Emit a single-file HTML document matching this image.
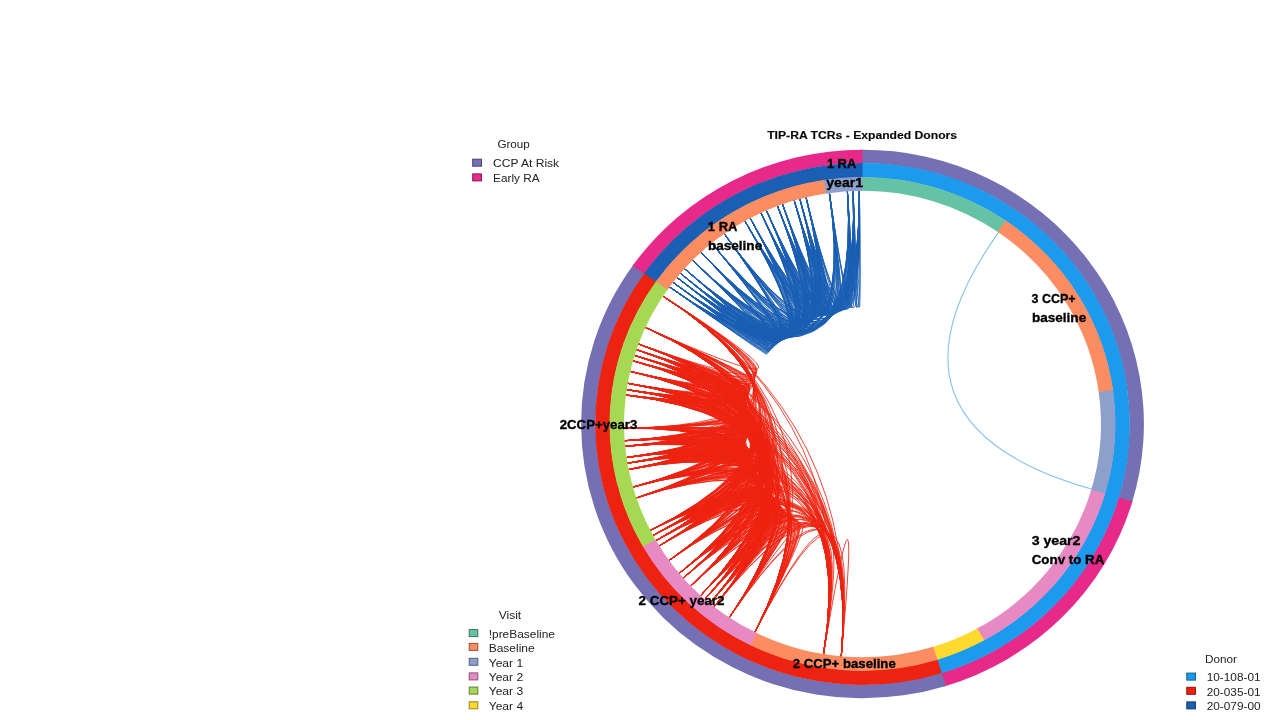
<!DOCTYPE html>
<html><head><meta charset="utf-8"><title>TIP-RA TCRs - Expanded Donors</title>
<style>
html,body{margin:0;padding:0;background:#fff;}
body{width:1280px;height:720px;overflow:hidden;font-family:"Liberation Sans",sans-serif;}
svg{display:block;font-family:"Liberation Sans",sans-serif;will-change:transform;}
.lab text{font-weight:bold;font-size:13.5px;fill:#000;stroke:#000;stroke-width:0.35px;}
.leg text{font-size:11.8px;fill:#222;}
.ttl{font-weight:bold;font-size:11.6px;fill:#0a0a0a;stroke:#0a0a0a;stroke-width:0.15px;}
</style></head><body>
<svg width="1280" height="720" viewBox="0 0 1280 720">
<rect width="1280" height="720" fill="#fff"/>
<g fill="none" stroke-linecap="butt">
<path d="M998.6 232.4Q862.5 423.9 1091.5 489.0" stroke="#86c0ee" stroke-width="1.1"/>
<path d="M663.0 296.2Q862.5 423.9 645.4 327.5M663.0 296.2Q862.5 423.9 638.5 344.0M663.0 296.2Q862.5 423.9 636.5 349.7M663.0 296.2Q862.5 423.9 634.6 355.4M663.0 296.2Q862.5 423.9 633.0 360.8M663.0 296.2Q862.5 423.9 630.2 371.4M663.0 296.2Q862.5 423.9 627.7 383.3M663.0 296.2Q862.5 423.9 626.6 389.6M663.0 296.2Q862.5 423.9 625.9 395.0M663.0 296.2Q862.5 423.9 624.1 428.3M663.0 296.2Q862.5 423.9 624.7 440.7M663.0 296.2Q862.5 423.9 625.1 446.3M663.0 296.2Q862.5 423.9 626.5 457.5M663.0 296.2Q862.5 423.9 627.4 463.2M663.0 296.2Q862.5 423.9 628.6 469.5M663.0 296.2Q862.5 423.9 632.9 487.1M663.0 296.2Q862.5 423.9 636.4 497.9M663.0 296.2Q862.5 423.9 650.3 530.4M663.0 296.2Q862.5 423.9 653.0 535.4M663.0 296.2Q862.5 423.9 656.0 540.6M663.0 296.2Q862.5 423.9 659.2 545.9M663.0 296.2Q862.5 423.9 669.1 560.4M663.0 296.2Q862.5 423.9 679.3 573.3M663.0 296.2Q862.5 423.9 683.4 578.0M663.0 296.2Q862.5 423.9 690.9 586.0M663.0 296.2Q862.5 423.9 700.8 595.4M663.0 296.2Q862.5 423.9 705.0 599.1M663.0 296.2Q862.5 423.9 710.0 603.3M663.0 296.2Q862.5 423.9 714.3 606.7M663.0 296.2Q862.5 423.9 729.4 617.5M663.0 296.2Q862.5 423.9 754.9 632.2M663.0 296.2Q862.5 423.9 823.5 654.1M663.0 296.2Q862.5 423.9 841.3 656.3M645.4 327.5Q862.5 423.9 638.5 344.0M645.4 327.5Q862.5 423.9 636.5 349.7M645.4 327.5Q862.5 423.9 634.6 355.4M645.4 327.5Q862.5 423.9 633.0 360.8M645.4 327.5Q862.5 423.9 630.2 371.4M645.4 327.5Q862.5 423.9 627.7 383.3M645.4 327.5Q862.5 423.9 626.6 389.6M645.4 327.5Q862.5 423.9 625.9 395.0M645.4 327.5Q862.5 423.9 624.1 428.3M645.4 327.5Q862.5 423.9 624.7 440.7M645.4 327.5Q862.5 423.9 625.1 446.3M645.4 327.5Q862.5 423.9 626.5 457.5M645.4 327.5Q862.5 423.9 627.4 463.2M645.4 327.5Q862.5 423.9 628.6 469.5M645.4 327.5Q862.5 423.9 632.9 487.1M645.4 327.5Q862.5 423.9 636.4 497.9M645.4 327.5Q862.5 423.9 650.3 530.4M645.4 327.5Q862.5 423.9 653.0 535.4M645.4 327.5Q862.5 423.9 656.0 540.6M645.4 327.5Q862.5 423.9 659.2 545.9M645.4 327.5Q862.5 423.9 669.1 560.4M645.4 327.5Q862.5 423.9 679.3 573.3M645.4 327.5Q862.5 423.9 683.4 578.0M645.4 327.5Q862.5 423.9 690.9 586.0M645.4 327.5Q862.5 423.9 700.8 595.4M645.4 327.5Q862.5 423.9 705.0 599.1M645.4 327.5Q862.5 423.9 710.0 603.3M645.4 327.5Q862.5 423.9 714.3 606.7M645.4 327.5Q862.5 423.9 729.4 617.5M645.4 327.5Q862.5 423.9 754.9 632.2M645.4 327.5Q862.5 423.9 823.5 654.1M645.4 327.5Q862.5 423.9 841.3 656.3M638.5 344.0Q862.5 423.9 636.5 349.7M638.5 344.0Q862.5 423.9 634.6 355.4M638.5 344.0Q862.5 423.9 633.0 360.8M638.5 344.0Q862.5 423.9 630.2 371.4M638.5 344.0Q862.5 423.9 627.7 383.3M638.5 344.0Q862.5 423.9 626.6 389.6M638.5 344.0Q862.5 423.9 625.9 395.0M638.5 344.0Q862.5 423.9 624.1 428.3M638.5 344.0Q862.5 423.9 624.7 440.7M638.5 344.0Q862.5 423.9 625.1 446.3M638.5 344.0Q862.5 423.9 626.5 457.5M638.5 344.0Q862.5 423.9 627.4 463.2M638.5 344.0Q862.5 423.9 628.6 469.5M638.5 344.0Q862.5 423.9 632.9 487.1M638.5 344.0Q862.5 423.9 636.4 497.9M638.5 344.0Q862.5 423.9 650.3 530.4M638.5 344.0Q862.5 423.9 653.0 535.4M638.5 344.0Q862.5 423.9 656.0 540.6M638.5 344.0Q862.5 423.9 659.2 545.9M638.5 344.0Q862.5 423.9 669.1 560.4M638.5 344.0Q862.5 423.9 679.3 573.3M638.5 344.0Q862.5 423.9 683.4 578.0M638.5 344.0Q862.5 423.9 690.9 586.0M638.5 344.0Q862.5 423.9 700.8 595.4M638.5 344.0Q862.5 423.9 705.0 599.1M638.5 344.0Q862.5 423.9 710.0 603.3M638.5 344.0Q862.5 423.9 714.3 606.7M638.5 344.0Q862.5 423.9 729.4 617.5M638.5 344.0Q862.5 423.9 754.9 632.2M638.5 344.0Q862.5 423.9 823.5 654.1M638.5 344.0Q862.5 423.9 841.3 656.3M636.5 349.7Q862.5 423.9 634.6 355.4M636.5 349.7Q862.5 423.9 633.0 360.8M636.5 349.7Q862.5 423.9 630.2 371.4M636.5 349.7Q862.5 423.9 627.7 383.3M636.5 349.7Q862.5 423.9 626.6 389.6M636.5 349.7Q862.5 423.9 625.9 395.0M636.5 349.7Q862.5 423.9 624.1 428.3M636.5 349.7Q862.5 423.9 624.7 440.7M636.5 349.7Q862.5 423.9 625.1 446.3M636.5 349.7Q862.5 423.9 626.5 457.5M636.5 349.7Q862.5 423.9 627.4 463.2M636.5 349.7Q862.5 423.9 628.6 469.5M636.5 349.7Q862.5 423.9 632.9 487.1M636.5 349.7Q862.5 423.9 636.4 497.9M636.5 349.7Q862.5 423.9 650.3 530.4M636.5 349.7Q862.5 423.9 653.0 535.4M636.5 349.7Q862.5 423.9 656.0 540.6M636.5 349.7Q862.5 423.9 659.2 545.9M636.5 349.7Q862.5 423.9 669.1 560.4M636.5 349.7Q862.5 423.9 679.3 573.3M636.5 349.7Q862.5 423.9 683.4 578.0M636.5 349.7Q862.5 423.9 690.9 586.0M636.5 349.7Q862.5 423.9 700.8 595.4M636.5 349.7Q862.5 423.9 705.0 599.1M636.5 349.7Q862.5 423.9 710.0 603.3M636.5 349.7Q862.5 423.9 714.3 606.7M636.5 349.7Q862.5 423.9 729.4 617.5M636.5 349.7Q862.5 423.9 754.9 632.2M636.5 349.7Q862.5 423.9 823.5 654.1M636.5 349.7Q862.5 423.9 841.3 656.3M634.6 355.4Q862.5 423.9 633.0 360.8M634.6 355.4Q862.5 423.9 630.2 371.4M634.6 355.4Q862.5 423.9 627.7 383.3M634.6 355.4Q862.5 423.9 626.6 389.6M634.6 355.4Q862.5 423.9 625.9 395.0M634.6 355.4Q862.5 423.9 624.1 428.3M634.6 355.4Q862.5 423.9 624.7 440.7M634.6 355.4Q862.5 423.9 625.1 446.3M634.6 355.4Q862.5 423.9 626.5 457.5M634.6 355.4Q862.5 423.9 627.4 463.2M634.6 355.4Q862.5 423.9 628.6 469.5M634.6 355.4Q862.5 423.9 632.9 487.1M634.6 355.4Q862.5 423.9 636.4 497.9M634.6 355.4Q862.5 423.9 650.3 530.4M634.6 355.4Q862.5 423.9 653.0 535.4M634.6 355.4Q862.5 423.9 656.0 540.6M634.6 355.4Q862.5 423.9 659.2 545.9M634.6 355.4Q862.5 423.9 669.1 560.4M634.6 355.4Q862.5 423.9 679.3 573.3M634.6 355.4Q862.5 423.9 683.4 578.0M634.6 355.4Q862.5 423.9 690.9 586.0M634.6 355.4Q862.5 423.9 700.8 595.4M634.6 355.4Q862.5 423.9 705.0 599.1M634.6 355.4Q862.5 423.9 710.0 603.3M634.6 355.4Q862.5 423.9 714.3 606.7M634.6 355.4Q862.5 423.9 729.4 617.5M634.6 355.4Q862.5 423.9 754.9 632.2M634.6 355.4Q862.5 423.9 823.5 654.1M634.6 355.4Q862.5 423.9 841.3 656.3M633.0 360.8Q862.5 423.9 630.2 371.4M633.0 360.8Q862.5 423.9 627.7 383.3M633.0 360.8Q862.5 423.9 626.6 389.6M633.0 360.8Q862.5 423.9 625.9 395.0M633.0 360.8Q862.5 423.9 624.1 428.3M633.0 360.8Q862.5 423.9 624.7 440.7M633.0 360.8Q862.5 423.9 625.1 446.3M633.0 360.8Q862.5 423.9 626.5 457.5M633.0 360.8Q862.5 423.9 627.4 463.2M633.0 360.8Q862.5 423.9 628.6 469.5M633.0 360.8Q862.5 423.9 632.9 487.1M633.0 360.8Q862.5 423.9 636.4 497.9M633.0 360.8Q862.5 423.9 650.3 530.4M633.0 360.8Q862.5 423.9 653.0 535.4M633.0 360.8Q862.5 423.9 656.0 540.6M633.0 360.8Q862.5 423.9 659.2 545.9M633.0 360.8Q862.5 423.9 669.1 560.4M633.0 360.8Q862.5 423.9 679.3 573.3M633.0 360.8Q862.5 423.9 683.4 578.0M633.0 360.8Q862.5 423.9 690.9 586.0M633.0 360.8Q862.5 423.9 700.8 595.4M633.0 360.8Q862.5 423.9 705.0 599.1M633.0 360.8Q862.5 423.9 710.0 603.3M633.0 360.8Q862.5 423.9 714.3 606.7M633.0 360.8Q862.5 423.9 729.4 617.5M633.0 360.8Q862.5 423.9 754.9 632.2M633.0 360.8Q862.5 423.9 823.5 654.1M633.0 360.8Q862.5 423.9 841.3 656.3M630.2 371.4Q862.5 423.9 627.7 383.3M630.2 371.4Q862.5 423.9 626.6 389.6M630.2 371.4Q862.5 423.9 625.9 395.0M630.2 371.4Q862.5 423.9 624.1 428.3M630.2 371.4Q862.5 423.9 624.7 440.7M630.2 371.4Q862.5 423.9 625.1 446.3M630.2 371.4Q862.5 423.9 626.5 457.5M630.2 371.4Q862.5 423.9 627.4 463.2M630.2 371.4Q862.5 423.9 628.6 469.5M630.2 371.4Q862.5 423.9 632.9 487.1M630.2 371.4Q862.5 423.9 636.4 497.9M630.2 371.4Q862.5 423.9 650.3 530.4M630.2 371.4Q862.5 423.9 653.0 535.4M630.2 371.4Q862.5 423.9 656.0 540.6M630.2 371.4Q862.5 423.9 659.2 545.9M630.2 371.4Q862.5 423.9 669.1 560.4M630.2 371.4Q862.5 423.9 679.3 573.3M630.2 371.4Q862.5 423.9 683.4 578.0M630.2 371.4Q862.5 423.9 690.9 586.0M630.2 371.4Q862.5 423.9 700.8 595.4M630.2 371.4Q862.5 423.9 705.0 599.1M630.2 371.4Q862.5 423.9 710.0 603.3M630.2 371.4Q862.5 423.9 714.3 606.7M630.2 371.4Q862.5 423.9 729.4 617.5M630.2 371.4Q862.5 423.9 754.9 632.2M630.2 371.4Q862.5 423.9 823.5 654.1M630.2 371.4Q862.5 423.9 841.3 656.3M627.7 383.3Q862.5 423.9 626.6 389.6M627.7 383.3Q862.5 423.9 625.9 395.0M627.7 383.3Q862.5 423.9 624.1 428.3M627.7 383.3Q862.5 423.9 624.7 440.7M627.7 383.3Q862.5 423.9 625.1 446.3M627.7 383.3Q862.5 423.9 626.5 457.5M627.7 383.3Q862.5 423.9 627.4 463.2M627.7 383.3Q862.5 423.9 628.6 469.5M627.7 383.3Q862.5 423.9 632.9 487.1M627.7 383.3Q862.5 423.9 636.4 497.9M627.7 383.3Q862.5 423.9 650.3 530.4M627.7 383.3Q862.5 423.9 653.0 535.4M627.7 383.3Q862.5 423.9 656.0 540.6M627.7 383.3Q862.5 423.9 659.2 545.9M627.7 383.3Q862.5 423.9 669.1 560.4M627.7 383.3Q862.5 423.9 679.3 573.3M627.7 383.3Q862.5 423.9 683.4 578.0M627.7 383.3Q862.5 423.9 690.9 586.0M627.7 383.3Q862.5 423.9 700.8 595.4M627.7 383.3Q862.5 423.9 705.0 599.1M627.7 383.3Q862.5 423.9 710.0 603.3M627.7 383.3Q862.5 423.9 714.3 606.7M627.7 383.3Q862.5 423.9 729.4 617.5M627.7 383.3Q862.5 423.9 754.9 632.2M627.7 383.3Q862.5 423.9 823.5 654.1M627.7 383.3Q862.5 423.9 841.3 656.3M626.6 389.6Q862.5 423.9 625.9 395.0M626.6 389.6Q862.5 423.9 624.1 428.3M626.6 389.6Q862.5 423.9 624.7 440.7M626.6 389.6Q862.5 423.9 625.1 446.3M626.6 389.6Q862.5 423.9 626.5 457.5M626.6 389.6Q862.5 423.9 627.4 463.2M626.6 389.6Q862.5 423.9 628.6 469.5M626.6 389.6Q862.5 423.9 632.9 487.1M626.6 389.6Q862.5 423.9 636.4 497.9M626.6 389.6Q862.5 423.9 650.3 530.4M626.6 389.6Q862.5 423.9 653.0 535.4M626.6 389.6Q862.5 423.9 656.0 540.6M626.6 389.6Q862.5 423.9 659.2 545.9M626.6 389.6Q862.5 423.9 669.1 560.4M626.6 389.6Q862.5 423.9 679.3 573.3M626.6 389.6Q862.5 423.9 683.4 578.0M626.6 389.6Q862.5 423.9 690.9 586.0M626.6 389.6Q862.5 423.9 700.8 595.4M626.6 389.6Q862.5 423.9 705.0 599.1M626.6 389.6Q862.5 423.9 710.0 603.3M626.6 389.6Q862.5 423.9 714.3 606.7M626.6 389.6Q862.5 423.9 729.4 617.5M626.6 389.6Q862.5 423.9 754.9 632.2M626.6 389.6Q862.5 423.9 823.5 654.1M626.6 389.6Q862.5 423.9 841.3 656.3M625.9 395.0Q862.5 423.9 624.1 428.3M625.9 395.0Q862.5 423.9 624.7 440.7M625.9 395.0Q862.5 423.9 625.1 446.3M625.9 395.0Q862.5 423.9 626.5 457.5M625.9 395.0Q862.5 423.9 627.4 463.2M625.9 395.0Q862.5 423.9 628.6 469.5M625.9 395.0Q862.5 423.9 632.9 487.1M625.9 395.0Q862.5 423.9 636.4 497.9M625.9 395.0Q862.5 423.9 650.3 530.4M625.9 395.0Q862.5 423.9 653.0 535.4M625.9 395.0Q862.5 423.9 656.0 540.6M625.9 395.0Q862.5 423.9 659.2 545.9M625.9 395.0Q862.5 423.9 669.1 560.4M625.9 395.0Q862.5 423.9 679.3 573.3M625.9 395.0Q862.5 423.9 683.4 578.0M625.9 395.0Q862.5 423.9 690.9 586.0M625.9 395.0Q862.5 423.9 700.8 595.4M625.9 395.0Q862.5 423.9 705.0 599.1M625.9 395.0Q862.5 423.9 710.0 603.3M625.9 395.0Q862.5 423.9 714.3 606.7M625.9 395.0Q862.5 423.9 729.4 617.5M625.9 395.0Q862.5 423.9 754.9 632.2M625.9 395.0Q862.5 423.9 823.5 654.1M625.9 395.0Q862.5 423.9 841.3 656.3M624.1 428.3Q862.5 423.9 624.7 440.7M624.1 428.3Q862.5 423.9 625.1 446.3M624.1 428.3Q862.5 423.9 626.5 457.5M624.1 428.3Q862.5 423.9 627.4 463.2M624.1 428.3Q862.5 423.9 628.6 469.5M624.1 428.3Q862.5 423.9 632.9 487.1M624.1 428.3Q862.5 423.9 636.4 497.9M624.1 428.3Q862.5 423.9 650.3 530.4M624.1 428.3Q862.5 423.9 653.0 535.4M624.1 428.3Q862.5 423.9 656.0 540.6M624.1 428.3Q862.5 423.9 659.2 545.9M624.1 428.3Q862.5 423.9 669.1 560.4M624.1 428.3Q862.5 423.9 679.3 573.3M624.1 428.3Q862.5 423.9 683.4 578.0M624.1 428.3Q862.5 423.9 690.9 586.0M624.1 428.3Q862.5 423.9 700.8 595.4M624.1 428.3Q862.5 423.9 705.0 599.1M624.1 428.3Q862.5 423.9 710.0 603.3M624.1 428.3Q862.5 423.9 714.3 606.7M624.1 428.3Q862.5 423.9 729.4 617.5M624.1 428.3Q862.5 423.9 754.9 632.2M624.1 428.3Q862.5 423.9 823.5 654.1M624.1 428.3Q862.5 423.9 841.3 656.3M624.7 440.7Q862.5 423.9 625.1 446.3M624.7 440.7Q862.5 423.9 626.5 457.5M624.7 440.7Q862.5 423.9 627.4 463.2M624.7 440.7Q862.5 423.9 628.6 469.5M624.7 440.7Q862.5 423.9 632.9 487.1M624.7 440.7Q862.5 423.9 636.4 497.9M624.7 440.7Q862.5 423.9 650.3 530.4M624.7 440.7Q862.5 423.9 653.0 535.4M624.7 440.7Q862.5 423.9 656.0 540.6M624.7 440.7Q862.5 423.9 659.2 545.9M624.7 440.7Q862.5 423.9 669.1 560.4M624.7 440.7Q862.5 423.9 679.3 573.3M624.7 440.7Q862.5 423.9 683.4 578.0M624.7 440.7Q862.5 423.9 690.9 586.0M624.7 440.7Q862.5 423.9 700.8 595.4M624.7 440.7Q862.5 423.9 705.0 599.1M624.7 440.7Q862.5 423.9 710.0 603.3M624.7 440.7Q862.5 423.9 714.3 606.7M624.7 440.7Q862.5 423.9 729.4 617.5M624.7 440.7Q862.5 423.9 754.9 632.2M624.7 440.7Q862.5 423.9 823.5 654.1M624.7 440.7Q862.5 423.9 841.3 656.3M625.1 446.3Q862.5 423.9 626.5 457.5M625.1 446.3Q862.5 423.9 627.4 463.2M625.1 446.3Q862.5 423.9 628.6 469.5M625.1 446.3Q862.5 423.9 632.9 487.1M625.1 446.3Q862.5 423.9 636.4 497.9M625.1 446.3Q862.5 423.9 650.3 530.4M625.1 446.3Q862.5 423.9 653.0 535.4M625.1 446.3Q862.5 423.9 656.0 540.6M625.1 446.3Q862.5 423.9 659.2 545.9M625.1 446.3Q862.5 423.9 669.1 560.4M625.1 446.3Q862.5 423.9 679.3 573.3M625.1 446.3Q862.5 423.9 683.4 578.0M625.1 446.3Q862.5 423.9 690.9 586.0M625.1 446.3Q862.5 423.9 700.8 595.4M625.1 446.3Q862.5 423.9 705.0 599.1M625.1 446.3Q862.5 423.9 710.0 603.3M625.1 446.3Q862.5 423.9 714.3 606.7M625.1 446.3Q862.5 423.9 729.4 617.5M625.1 446.3Q862.5 423.9 754.9 632.2M625.1 446.3Q862.5 423.9 823.5 654.1M625.1 446.3Q862.5 423.9 841.3 656.3M626.5 457.5Q862.5 423.9 627.4 463.2M626.5 457.5Q862.5 423.9 628.6 469.5M626.5 457.5Q862.5 423.9 632.9 487.1M626.5 457.5Q862.5 423.9 636.4 497.9M626.5 457.5Q862.5 423.9 650.3 530.4M626.5 457.5Q862.5 423.9 653.0 535.4M626.5 457.5Q862.5 423.9 656.0 540.6M626.5 457.5Q862.5 423.9 659.2 545.9M626.5 457.5Q862.5 423.9 669.1 560.4M626.5 457.5Q862.5 423.9 679.3 573.3M626.5 457.5Q862.5 423.9 683.4 578.0M626.5 457.5Q862.5 423.9 690.9 586.0M626.5 457.5Q862.5 423.9 700.8 595.4M626.5 457.5Q862.5 423.9 705.0 599.1M626.5 457.5Q862.5 423.9 710.0 603.3M626.5 457.5Q862.5 423.9 714.3 606.7M626.5 457.5Q862.5 423.9 729.4 617.5M626.5 457.5Q862.5 423.9 754.9 632.2M626.5 457.5Q862.5 423.9 823.5 654.1M626.5 457.5Q862.5 423.9 841.3 656.3M627.4 463.2Q862.5 423.9 628.6 469.5M627.4 463.2Q862.5 423.9 632.9 487.1M627.4 463.2Q862.5 423.9 636.4 497.9M627.4 463.2Q862.5 423.9 650.3 530.4M627.4 463.2Q862.5 423.9 653.0 535.4M627.4 463.2Q862.5 423.9 656.0 540.6M627.4 463.2Q862.5 423.9 659.2 545.9M627.4 463.2Q862.5 423.9 669.1 560.4M627.4 463.2Q862.5 423.9 679.3 573.3M627.4 463.2Q862.5 423.9 683.4 578.0M627.4 463.2Q862.5 423.9 690.9 586.0M627.4 463.2Q862.5 423.9 700.8 595.4M627.4 463.2Q862.5 423.9 705.0 599.1M627.4 463.2Q862.5 423.9 710.0 603.3M627.4 463.2Q862.5 423.9 714.3 606.7M627.4 463.2Q862.5 423.9 729.4 617.5M627.4 463.2Q862.5 423.9 754.9 632.2M627.4 463.2Q862.5 423.9 823.5 654.1M627.4 463.2Q862.5 423.9 841.3 656.3M628.6 469.5Q862.5 423.9 632.9 487.1M628.6 469.5Q862.5 423.9 636.4 497.9M628.6 469.5Q862.5 423.9 650.3 530.4M628.6 469.5Q862.5 423.9 653.0 535.4M628.6 469.5Q862.5 423.9 656.0 540.6M628.6 469.5Q862.5 423.9 659.2 545.9M628.6 469.5Q862.5 423.9 669.1 560.4M628.6 469.5Q862.5 423.9 679.3 573.3M628.6 469.5Q862.5 423.9 683.4 578.0M628.6 469.5Q862.5 423.9 690.9 586.0M628.6 469.5Q862.5 423.9 700.8 595.4M628.6 469.5Q862.5 423.9 705.0 599.1M628.6 469.5Q862.5 423.9 710.0 603.3M628.6 469.5Q862.5 423.9 714.3 606.7M628.6 469.5Q862.5 423.9 729.4 617.5M628.6 469.5Q862.5 423.9 754.9 632.2M628.6 469.5Q862.5 423.9 823.5 654.1M628.6 469.5Q862.5 423.9 841.3 656.3M632.9 487.1Q862.5 423.9 636.4 497.9M632.9 487.1Q862.5 423.9 650.3 530.4M632.9 487.1Q862.5 423.9 653.0 535.4M632.9 487.1Q862.5 423.9 656.0 540.6M632.9 487.1Q862.5 423.9 659.2 545.9M632.9 487.1Q862.5 423.9 669.1 560.4M632.9 487.1Q862.5 423.9 679.3 573.3M632.9 487.1Q862.5 423.9 683.4 578.0M632.9 487.1Q862.5 423.9 690.9 586.0M632.9 487.1Q862.5 423.9 700.8 595.4M632.9 487.1Q862.5 423.9 705.0 599.1M632.9 487.1Q862.5 423.9 710.0 603.3M632.9 487.1Q862.5 423.9 714.3 606.7M632.9 487.1Q862.5 423.9 729.4 617.5M632.9 487.1Q862.5 423.9 754.9 632.2M632.9 487.1Q862.5 423.9 823.5 654.1M632.9 487.1Q862.5 423.9 841.3 656.3M636.4 497.9Q862.5 423.9 650.3 530.4M636.4 497.9Q862.5 423.9 653.0 535.4M636.4 497.9Q862.5 423.9 656.0 540.6M636.4 497.9Q862.5 423.9 659.2 545.9M636.4 497.9Q862.5 423.9 669.1 560.4M636.4 497.9Q862.5 423.9 679.3 573.3M636.4 497.9Q862.5 423.9 683.4 578.0M636.4 497.9Q862.5 423.9 690.9 586.0M636.4 497.9Q862.5 423.9 700.8 595.4M636.4 497.9Q862.5 423.9 705.0 599.1M636.4 497.9Q862.5 423.9 710.0 603.3M636.4 497.9Q862.5 423.9 714.3 606.7M636.4 497.9Q862.5 423.9 729.4 617.5M636.4 497.9Q862.5 423.9 754.9 632.2M636.4 497.9Q862.5 423.9 823.5 654.1M636.4 497.9Q862.5 423.9 841.3 656.3M650.3 530.4Q862.5 423.9 653.0 535.4M650.3 530.4Q862.5 423.9 656.0 540.6M650.3 530.4Q862.5 423.9 659.2 545.9M650.3 530.4Q862.5 423.9 669.1 560.4M650.3 530.4Q862.5 423.9 679.3 573.3M650.3 530.4Q862.5 423.9 683.4 578.0M650.3 530.4Q862.5 423.9 690.9 586.0M650.3 530.4Q862.5 423.9 700.8 595.4M650.3 530.4Q862.5 423.9 705.0 599.1M650.3 530.4Q862.5 423.9 710.0 603.3M650.3 530.4Q862.5 423.9 714.3 606.7M650.3 530.4Q862.5 423.9 729.4 617.5M650.3 530.4Q862.5 423.9 754.9 632.2M650.3 530.4Q862.5 423.9 823.5 654.1M650.3 530.4Q862.5 423.9 841.3 656.3M653.0 535.4Q862.5 423.9 656.0 540.6M653.0 535.4Q862.5 423.9 659.2 545.9M653.0 535.4Q862.5 423.9 669.1 560.4M653.0 535.4Q862.5 423.9 679.3 573.3M653.0 535.4Q862.5 423.9 683.4 578.0M653.0 535.4Q862.5 423.9 690.9 586.0M653.0 535.4Q862.5 423.9 700.8 595.4M653.0 535.4Q862.5 423.9 705.0 599.1M653.0 535.4Q862.5 423.9 710.0 603.3M653.0 535.4Q862.5 423.9 714.3 606.7M653.0 535.4Q862.5 423.9 729.4 617.5M653.0 535.4Q862.5 423.9 754.9 632.2M653.0 535.4Q862.5 423.9 823.5 654.1M653.0 535.4Q862.5 423.9 841.3 656.3M656.0 540.6Q862.5 423.9 659.2 545.9M656.0 540.6Q862.5 423.9 669.1 560.4M656.0 540.6Q862.5 423.9 679.3 573.3M656.0 540.6Q862.5 423.9 683.4 578.0M656.0 540.6Q862.5 423.9 690.9 586.0M656.0 540.6Q862.5 423.9 700.8 595.4M656.0 540.6Q862.5 423.9 705.0 599.1M656.0 540.6Q862.5 423.9 710.0 603.3M656.0 540.6Q862.5 423.9 714.3 606.7M656.0 540.6Q862.5 423.9 729.4 617.5M656.0 540.6Q862.5 423.9 754.9 632.2M656.0 540.6Q862.5 423.9 823.5 654.1M656.0 540.6Q862.5 423.9 841.3 656.3M659.2 545.9Q862.5 423.9 669.1 560.4M659.2 545.9Q862.5 423.9 679.3 573.3M659.2 545.9Q862.5 423.9 683.4 578.0M659.2 545.9Q862.5 423.9 690.9 586.0M659.2 545.9Q862.5 423.9 700.8 595.4M659.2 545.9Q862.5 423.9 705.0 599.1M659.2 545.9Q862.5 423.9 710.0 603.3M659.2 545.9Q862.5 423.9 714.3 606.7M659.2 545.9Q862.5 423.9 729.4 617.5M659.2 545.9Q862.5 423.9 754.9 632.2M659.2 545.9Q862.5 423.9 823.5 654.1M659.2 545.9Q862.5 423.9 841.3 656.3M669.1 560.4Q862.5 423.9 679.3 573.3M669.1 560.4Q862.5 423.9 683.4 578.0M669.1 560.4Q862.5 423.9 690.9 586.0M669.1 560.4Q862.5 423.9 700.8 595.4M669.1 560.4Q862.5 423.9 705.0 599.1M669.1 560.4Q862.5 423.9 710.0 603.3M669.1 560.4Q862.5 423.9 714.3 606.7M669.1 560.4Q862.5 423.9 729.4 617.5M669.1 560.4Q862.5 423.9 754.9 632.2M669.1 560.4Q862.5 423.9 823.5 654.1M669.1 560.4Q862.5 423.9 841.3 656.3M679.3 573.3Q862.5 423.9 683.4 578.0M679.3 573.3Q862.5 423.9 690.9 586.0M679.3 573.3Q862.5 423.9 700.8 595.4M679.3 573.3Q862.5 423.9 705.0 599.1M679.3 573.3Q862.5 423.9 710.0 603.3M679.3 573.3Q862.5 423.9 714.3 606.7M679.3 573.3Q862.5 423.9 729.4 617.5M679.3 573.3Q862.5 423.9 754.9 632.2M679.3 573.3Q862.5 423.9 823.5 654.1M679.3 573.3Q862.5 423.9 841.3 656.3M683.4 578.0Q862.5 423.9 690.9 586.0M683.4 578.0Q862.5 423.9 700.8 595.4M683.4 578.0Q862.5 423.9 705.0 599.1M683.4 578.0Q862.5 423.9 710.0 603.3M683.4 578.0Q862.5 423.9 714.3 606.7M683.4 578.0Q862.5 423.9 729.4 617.5M683.4 578.0Q862.5 423.9 754.9 632.2M683.4 578.0Q862.5 423.9 823.5 654.1M683.4 578.0Q862.5 423.9 841.3 656.3M690.9 586.0Q862.5 423.9 700.8 595.4M690.9 586.0Q862.5 423.9 705.0 599.1M690.9 586.0Q862.5 423.9 710.0 603.3M690.9 586.0Q862.5 423.9 714.3 606.7M690.9 586.0Q862.5 423.9 729.4 617.5M690.9 586.0Q862.5 423.9 754.9 632.2M690.9 586.0Q862.5 423.9 823.5 654.1M690.9 586.0Q862.5 423.9 841.3 656.3M700.8 595.4Q862.5 423.9 705.0 599.1M700.8 595.4Q862.5 423.9 710.0 603.3M700.8 595.4Q862.5 423.9 714.3 606.7M700.8 595.4Q862.5 423.9 729.4 617.5M700.8 595.4Q862.5 423.9 754.9 632.2M700.8 595.4Q862.5 423.9 823.5 654.1M700.8 595.4Q862.5 423.9 841.3 656.3M705.0 599.1Q862.5 423.9 710.0 603.3M705.0 599.1Q862.5 423.9 714.3 606.7M705.0 599.1Q862.5 423.9 729.4 617.5M705.0 599.1Q862.5 423.9 754.9 632.2M705.0 599.1Q862.5 423.9 823.5 654.1M705.0 599.1Q862.5 423.9 841.3 656.3M710.0 603.3Q862.5 423.9 714.3 606.7M710.0 603.3Q862.5 423.9 729.4 617.5M710.0 603.3Q862.5 423.9 754.9 632.2M710.0 603.3Q862.5 423.9 823.5 654.1M710.0 603.3Q862.5 423.9 841.3 656.3M714.3 606.7Q862.5 423.9 729.4 617.5M714.3 606.7Q862.5 423.9 754.9 632.2M714.3 606.7Q862.5 423.9 823.5 654.1M714.3 606.7Q862.5 423.9 841.3 656.3M729.4 617.5Q862.5 423.9 754.9 632.2M729.4 617.5Q862.5 423.9 823.5 654.1M729.4 617.5Q862.5 423.9 841.3 656.3M754.9 632.2Q862.5 423.9 823.5 654.1M754.9 632.2Q862.5 423.9 841.3 656.3M823.5 654.1Q862.5 423.9 841.3 656.3" stroke="#ee2211" stroke-width="0.85"/>
<path d="M669.5 286.9Q862.5 423.9 673.0 282.3M669.5 286.9Q862.5 423.9 676.9 277.4M669.5 286.9Q862.5 423.9 680.4 273.4M669.5 286.9Q862.5 423.9 684.5 268.7M669.5 286.9Q862.5 423.9 692.6 260.3M669.5 286.9Q862.5 423.9 701.1 252.2M669.5 286.9Q862.5 423.9 711.7 243.3M669.5 286.9Q862.5 423.9 724.3 233.8M669.5 286.9Q862.5 423.9 744.9 221.0M669.5 286.9Q862.5 423.9 750.2 218.1M669.5 286.9Q862.5 423.9 760.9 212.9M669.5 286.9Q862.5 423.9 766.4 210.4M669.5 286.9Q862.5 423.9 777.5 206.0M669.5 286.9Q862.5 423.9 782.5 204.2M669.5 286.9Q862.5 423.9 794.2 200.4M669.5 286.9Q862.5 423.9 799.8 198.8M669.5 286.9Q862.5 423.9 806.0 197.3M669.5 286.9Q862.5 423.9 829.4 192.9M669.5 286.9Q862.5 423.9 847.4 191.1M669.5 286.9Q862.5 423.9 853.1 190.8M669.5 286.9Q862.5 423.9 859.4 190.7M673.0 282.3Q862.5 423.9 676.9 277.4M673.0 282.3Q862.5 423.9 680.4 273.4M673.0 282.3Q862.5 423.9 684.5 268.7M673.0 282.3Q862.5 423.9 692.6 260.3M673.0 282.3Q862.5 423.9 701.1 252.2M673.0 282.3Q862.5 423.9 711.7 243.3M673.0 282.3Q862.5 423.9 724.3 233.8M673.0 282.3Q862.5 423.9 744.9 221.0M673.0 282.3Q862.5 423.9 750.2 218.1M673.0 282.3Q862.5 423.9 760.9 212.9M673.0 282.3Q862.5 423.9 766.4 210.4M673.0 282.3Q862.5 423.9 777.5 206.0M673.0 282.3Q862.5 423.9 782.5 204.2M673.0 282.3Q862.5 423.9 794.2 200.4M673.0 282.3Q862.5 423.9 799.8 198.8M673.0 282.3Q862.5 423.9 806.0 197.3M673.0 282.3Q862.5 423.9 829.4 192.9M673.0 282.3Q862.5 423.9 847.4 191.1M673.0 282.3Q862.5 423.9 853.1 190.8M673.0 282.3Q862.5 423.9 859.4 190.7M676.9 277.4Q862.5 423.9 680.4 273.4M676.9 277.4Q862.5 423.9 684.5 268.7M676.9 277.4Q862.5 423.9 692.6 260.3M676.9 277.4Q862.5 423.9 701.1 252.2M676.9 277.4Q862.5 423.9 711.7 243.3M676.9 277.4Q862.5 423.9 724.3 233.8M676.9 277.4Q862.5 423.9 744.9 221.0M676.9 277.4Q862.5 423.9 750.2 218.1M676.9 277.4Q862.5 423.9 760.9 212.9M676.9 277.4Q862.5 423.9 766.4 210.4M676.9 277.4Q862.5 423.9 777.5 206.0M676.9 277.4Q862.5 423.9 782.5 204.2M676.9 277.4Q862.5 423.9 794.2 200.4M676.9 277.4Q862.5 423.9 799.8 198.8M676.9 277.4Q862.5 423.9 806.0 197.3M676.9 277.4Q862.5 423.9 829.4 192.9M676.9 277.4Q862.5 423.9 847.4 191.1M676.9 277.4Q862.5 423.9 853.1 190.8M676.9 277.4Q862.5 423.9 859.4 190.7M680.4 273.4Q862.5 423.9 684.5 268.7M680.4 273.4Q862.5 423.9 692.6 260.3M680.4 273.4Q862.5 423.9 701.1 252.2M680.4 273.4Q862.5 423.9 711.7 243.3M680.4 273.4Q862.5 423.9 724.3 233.8M680.4 273.4Q862.5 423.9 744.9 221.0M680.4 273.4Q862.5 423.9 750.2 218.1M680.4 273.4Q862.5 423.9 760.9 212.9M680.4 273.4Q862.5 423.9 766.4 210.4M680.4 273.4Q862.5 423.9 777.5 206.0M680.4 273.4Q862.5 423.9 782.5 204.2M680.4 273.4Q862.5 423.9 794.2 200.4M680.4 273.4Q862.5 423.9 799.8 198.8M680.4 273.4Q862.5 423.9 806.0 197.3M680.4 273.4Q862.5 423.9 829.4 192.9M680.4 273.4Q862.5 423.9 847.4 191.1M680.4 273.4Q862.5 423.9 853.1 190.8M680.4 273.4Q862.5 423.9 859.4 190.7M684.5 268.7Q862.5 423.9 692.6 260.3M684.5 268.7Q862.5 423.9 701.1 252.2M684.5 268.7Q862.5 423.9 711.7 243.3M684.5 268.7Q862.5 423.9 724.3 233.8M684.5 268.7Q862.5 423.9 744.9 221.0M684.5 268.7Q862.5 423.9 750.2 218.1M684.5 268.7Q862.5 423.9 760.9 212.9M684.5 268.7Q862.5 423.9 766.4 210.4M684.5 268.7Q862.5 423.9 777.5 206.0M684.5 268.7Q862.5 423.9 782.5 204.2M684.5 268.7Q862.5 423.9 794.2 200.4M684.5 268.7Q862.5 423.9 799.8 198.8M684.5 268.7Q862.5 423.9 806.0 197.3M684.5 268.7Q862.5 423.9 829.4 192.9M684.5 268.7Q862.5 423.9 847.4 191.1M684.5 268.7Q862.5 423.9 853.1 190.8M684.5 268.7Q862.5 423.9 859.4 190.7M692.6 260.3Q862.5 423.9 701.1 252.2M692.6 260.3Q862.5 423.9 711.7 243.3M692.6 260.3Q862.5 423.9 724.3 233.8M692.6 260.3Q862.5 423.9 744.9 221.0M692.6 260.3Q862.5 423.9 750.2 218.1M692.6 260.3Q862.5 423.9 760.9 212.9M692.6 260.3Q862.5 423.9 766.4 210.4M692.6 260.3Q862.5 423.9 777.5 206.0M692.6 260.3Q862.5 423.9 782.5 204.2M692.6 260.3Q862.5 423.9 794.2 200.4M692.6 260.3Q862.5 423.9 799.8 198.8M692.6 260.3Q862.5 423.9 806.0 197.3M692.6 260.3Q862.5 423.9 829.4 192.9M692.6 260.3Q862.5 423.9 847.4 191.1M692.6 260.3Q862.5 423.9 853.1 190.8M692.6 260.3Q862.5 423.9 859.4 190.7M701.1 252.2Q862.5 423.9 711.7 243.3M701.1 252.2Q862.5 423.9 724.3 233.8M701.1 252.2Q862.5 423.9 744.9 221.0M701.1 252.2Q862.5 423.9 750.2 218.1M701.1 252.2Q862.5 423.9 760.9 212.9M701.1 252.2Q862.5 423.9 766.4 210.4M701.1 252.2Q862.5 423.9 777.5 206.0M701.1 252.2Q862.5 423.9 782.5 204.2M701.1 252.2Q862.5 423.9 794.2 200.4M701.1 252.2Q862.5 423.9 799.8 198.8M701.1 252.2Q862.5 423.9 806.0 197.3M701.1 252.2Q862.5 423.9 829.4 192.9M701.1 252.2Q862.5 423.9 847.4 191.1M701.1 252.2Q862.5 423.9 853.1 190.8M701.1 252.2Q862.5 423.9 859.4 190.7M711.7 243.3Q862.5 423.9 724.3 233.8M711.7 243.3Q862.5 423.9 744.9 221.0M711.7 243.3Q862.5 423.9 750.2 218.1M711.7 243.3Q862.5 423.9 760.9 212.9M711.7 243.3Q862.5 423.9 766.4 210.4M711.7 243.3Q862.5 423.9 777.5 206.0M711.7 243.3Q862.5 423.9 782.5 204.2M711.7 243.3Q862.5 423.9 794.2 200.4M711.7 243.3Q862.5 423.9 799.8 198.8M711.7 243.3Q862.5 423.9 806.0 197.3M711.7 243.3Q862.5 423.9 829.4 192.9M711.7 243.3Q862.5 423.9 847.4 191.1M711.7 243.3Q862.5 423.9 853.1 190.8M711.7 243.3Q862.5 423.9 859.4 190.7M724.3 233.8Q862.5 423.9 744.9 221.0M724.3 233.8Q862.5 423.9 750.2 218.1M724.3 233.8Q862.5 423.9 760.9 212.9M724.3 233.8Q862.5 423.9 766.4 210.4M724.3 233.8Q862.5 423.9 777.5 206.0M724.3 233.8Q862.5 423.9 782.5 204.2M724.3 233.8Q862.5 423.9 794.2 200.4M724.3 233.8Q862.5 423.9 799.8 198.8M724.3 233.8Q862.5 423.9 806.0 197.3M724.3 233.8Q862.5 423.9 829.4 192.9M724.3 233.8Q862.5 423.9 847.4 191.1M724.3 233.8Q862.5 423.9 853.1 190.8M724.3 233.8Q862.5 423.9 859.4 190.7M744.9 221.0Q862.5 423.9 750.2 218.1M744.9 221.0Q862.5 423.9 760.9 212.9M744.9 221.0Q862.5 423.9 766.4 210.4M744.9 221.0Q862.5 423.9 777.5 206.0M744.9 221.0Q862.5 423.9 782.5 204.2M744.9 221.0Q862.5 423.9 794.2 200.4M744.9 221.0Q862.5 423.9 799.8 198.8M744.9 221.0Q862.5 423.9 806.0 197.3M744.9 221.0Q862.5 423.9 829.4 192.9M744.9 221.0Q862.5 423.9 847.4 191.1M744.9 221.0Q862.5 423.9 853.1 190.8M744.9 221.0Q862.5 423.9 859.4 190.7M750.2 218.1Q862.5 423.9 760.9 212.9M750.2 218.1Q862.5 423.9 766.4 210.4M750.2 218.1Q862.5 423.9 777.5 206.0M750.2 218.1Q862.5 423.9 782.5 204.2M750.2 218.1Q862.5 423.9 794.2 200.4M750.2 218.1Q862.5 423.9 799.8 198.8M750.2 218.1Q862.5 423.9 806.0 197.3M750.2 218.1Q862.5 423.9 829.4 192.9M750.2 218.1Q862.5 423.9 847.4 191.1M750.2 218.1Q862.5 423.9 853.1 190.8M750.2 218.1Q862.5 423.9 859.4 190.7M760.9 212.9Q862.5 423.9 766.4 210.4M760.9 212.9Q862.5 423.9 777.5 206.0M760.9 212.9Q862.5 423.9 782.5 204.2M760.9 212.9Q862.5 423.9 794.2 200.4M760.9 212.9Q862.5 423.9 799.8 198.8M760.9 212.9Q862.5 423.9 806.0 197.3M760.9 212.9Q862.5 423.9 829.4 192.9M760.9 212.9Q862.5 423.9 847.4 191.1M760.9 212.9Q862.5 423.9 853.1 190.8M760.9 212.9Q862.5 423.9 859.4 190.7M766.4 210.4Q862.5 423.9 777.5 206.0M766.4 210.4Q862.5 423.9 782.5 204.2M766.4 210.4Q862.5 423.9 794.2 200.4M766.4 210.4Q862.5 423.9 799.8 198.8M766.4 210.4Q862.5 423.9 806.0 197.3M766.4 210.4Q862.5 423.9 829.4 192.9M766.4 210.4Q862.5 423.9 847.4 191.1M766.4 210.4Q862.5 423.9 853.1 190.8M766.4 210.4Q862.5 423.9 859.4 190.7M777.5 206.0Q862.5 423.9 782.5 204.2M777.5 206.0Q862.5 423.9 794.2 200.4M777.5 206.0Q862.5 423.9 799.8 198.8M777.5 206.0Q862.5 423.9 806.0 197.3M777.5 206.0Q862.5 423.9 829.4 192.9M777.5 206.0Q862.5 423.9 847.4 191.1M777.5 206.0Q862.5 423.9 853.1 190.8M777.5 206.0Q862.5 423.9 859.4 190.7M782.5 204.2Q862.5 423.9 794.2 200.4M782.5 204.2Q862.5 423.9 799.8 198.8M782.5 204.2Q862.5 423.9 806.0 197.3M782.5 204.2Q862.5 423.9 829.4 192.9M782.5 204.2Q862.5 423.9 847.4 191.1M782.5 204.2Q862.5 423.9 853.1 190.8M782.5 204.2Q862.5 423.9 859.4 190.7M794.2 200.4Q862.5 423.9 799.8 198.8M794.2 200.4Q862.5 423.9 806.0 197.3M794.2 200.4Q862.5 423.9 829.4 192.9M794.2 200.4Q862.5 423.9 847.4 191.1M794.2 200.4Q862.5 423.9 853.1 190.8M794.2 200.4Q862.5 423.9 859.4 190.7M799.8 198.8Q862.5 423.9 806.0 197.3M799.8 198.8Q862.5 423.9 829.4 192.9M799.8 198.8Q862.5 423.9 847.4 191.1M799.8 198.8Q862.5 423.9 853.1 190.8M799.8 198.8Q862.5 423.9 859.4 190.7M806.0 197.3Q862.5 423.9 829.4 192.9M806.0 197.3Q862.5 423.9 847.4 191.1M806.0 197.3Q862.5 423.9 853.1 190.8M806.0 197.3Q862.5 423.9 859.4 190.7M829.4 192.9Q862.5 423.9 847.4 191.1M829.4 192.9Q862.5 423.9 853.1 190.8M829.4 192.9Q862.5 423.9 859.4 190.7M847.4 191.1Q862.5 423.9 853.1 190.8M847.4 191.1Q862.5 423.9 859.4 190.7M853.1 190.8Q862.5 423.9 859.4 190.7" stroke="#1a5fb4" stroke-width="0.85"/>
</g>
<g><path d="M860.78 149.66A281.40 274.30 0 0 1 1131.96 503.00L1118.08 499.06A266.90 260.61 0 0 0 860.87 163.35Z" fill="#7570b3"/><path d="M1132.45 501.40A281.40 274.30 0 0 1 944.30 686.40L940.09 673.30A266.90 260.61 0 0 0 1118.54 497.53Z" fill="#e7298a"/><path d="M945.95 685.91A281.40 274.30 0 0 1 633.55 264.47L645.35 272.43A266.90 260.61 0 0 0 941.65 672.84Z" fill="#7570b3"/><path d="M632.56 265.83A281.40 274.30 0 0 1 862.50 149.65L862.50 163.34A266.90 260.61 0 0 0 644.40 273.73Z" fill="#e7298a"/><path d="M860.87 163.00A267.25 260.95 0 0 1 940.19 673.63L935.93 659.81A252.60 246.51 0 0 0 860.96 177.45Z" fill="#1c9bee"/><path d="M941.75 673.16A267.25 260.95 0 0 1 645.06 272.23L656.98 280.63A252.60 246.51 0 0 0 937.41 659.37Z" fill="#ee2211"/><path d="M644.12 273.53A267.25 260.95 0 0 1 862.50 163.00L862.50 177.44A252.60 246.51 0 0 0 656.09 281.85Z" fill="#1a5fb4"/><path d="M860.95 177.10A252.95 246.85 0 0 1 1007.04 221.37L998.76 232.49A238.45 233.30 0 0 0 861.04 190.65Z" fill="#66c2a5"/><path d="M1005.77 220.51A252.95 246.85 0 0 1 1113.26 391.52L1098.88 393.30A238.45 233.30 0 0 0 997.56 231.68Z" fill="#fc8d62"/><path d="M1113.05 390.02A252.95 246.85 0 0 1 1104.72 495.09L1090.83 491.19A238.45 233.30 0 0 0 1098.69 391.88Z" fill="#8da0cb"/><path d="M1105.16 493.65A252.95 246.85 0 0 1 983.00 640.99L976.10 629.08A238.45 233.30 0 0 0 1091.25 489.82Z" fill="#e78ac3"/><path d="M984.36 640.27A252.95 246.85 0 0 1 936.03 660.14L931.82 647.17A238.45 233.30 0 0 0 977.37 628.39Z" fill="#ffd92f"/><path d="M937.51 659.70A252.95 246.85 0 0 1 749.04 644.58L755.55 632.46A238.45 233.30 0 0 0 933.21 646.76Z" fill="#fc8d62"/><path d="M750.43 645.25A252.95 246.85 0 0 1 642.13 545.13L654.76 538.48A238.45 233.30 0 0 0 756.85 633.10Z" fill="#e78ac3"/><path d="M642.89 546.44A252.95 246.85 0 0 1 656.70 280.43L668.50 288.31A238.45 233.30 0 0 0 655.48 539.72Z" fill="#a6d854"/><path d="M655.80 281.66A252.95 246.85 0 0 1 825.33 179.78L827.46 193.18A238.45 233.30 0 0 0 667.65 289.47Z" fill="#fc8d62"/><path d="M823.80 180.01A252.95 246.85 0 0 1 862.50 177.10L862.50 190.65A238.45 233.30 0 0 0 826.02 193.40Z" fill="#8da0cb"/></g>
<text class="ttl" x="767.2" y="138.6" textLength="189.9" lengthAdjust="spacingAndGlyphs">TIP-RA TCRs - Expanded Donors</text>
<g class="leg"><text x="497.4" y="148.3" textLength="32.4" lengthAdjust="spacingAndGlyphs">Group</text><rect x="472.7" y="159.2" width="8.8" height="7.0" fill="#7570b3" stroke="#46436b" stroke-width="1"/><text x="493.1" y="167.4" textLength="66.0" lengthAdjust="spacingAndGlyphs">CCP At Risk</text><rect x="472.7" y="173.9" width="8.8" height="7.0" fill="#e7298a" stroke="#8a1852" stroke-width="1"/><text x="493.1" y="182.1" textLength="46.5" lengthAdjust="spacingAndGlyphs">Early RA</text><text x="498.7" y="618.6" textLength="22.5" lengthAdjust="spacingAndGlyphs">Visit</text><rect x="469.2" y="629.6" width="8.6" height="7.0" fill="#66c2a5" stroke="#3d7463" stroke-width="1"/><text x="488.7" y="637.8" textLength="66.3" lengthAdjust="spacingAndGlyphs">!preBaseline</text><rect x="469.2" y="643.4" width="8.6" height="7.0" fill="#fc8d62" stroke="#97543a" stroke-width="1"/><text x="488.7" y="651.6" textLength="46.0" lengthAdjust="spacingAndGlyphs">Baseline</text><rect x="469.2" y="658.3" width="8.6" height="7.0" fill="#8da0cb" stroke="#546079" stroke-width="1"/><text x="488.7" y="666.5" textLength="34.5" lengthAdjust="spacingAndGlyphs">Year 1</text><rect x="469.2" y="672.9" width="8.6" height="7.0" fill="#e78ac3" stroke="#8a5275" stroke-width="1"/><text x="488.7" y="681.1" textLength="34.5" lengthAdjust="spacingAndGlyphs">Year 2</text><rect x="469.2" y="687.1" width="8.6" height="7.0" fill="#a6d854" stroke="#638132" stroke-width="1"/><text x="488.7" y="695.3" textLength="34.5" lengthAdjust="spacingAndGlyphs">Year 3</text><rect x="469.2" y="701.8" width="8.6" height="7.0" fill="#ffd92f" stroke="#99821c" stroke-width="1"/><text x="488.7" y="710.0" textLength="34.5" lengthAdjust="spacingAndGlyphs">Year 4</text><text x="1205.0" y="662.5" textLength="31.9" lengthAdjust="spacingAndGlyphs">Donor</text><rect x="1186.8" y="673.1" width="8.6" height="7.0" fill="#1c9bee" stroke="#105d8e" stroke-width="1"/><text x="1206.7" y="681.3" textLength="53.9" lengthAdjust="spacingAndGlyphs">10-108-01</text><rect x="1186.8" y="687.3" width="8.6" height="7.0" fill="#ee2211" stroke="#8e140a" stroke-width="1"/><text x="1206.7" y="695.5" textLength="53.9" lengthAdjust="spacingAndGlyphs">20-035-01</text><rect x="1186.8" y="701.9" width="8.6" height="7.0" fill="#1a5fb4" stroke="#0f396c" stroke-width="1"/><text x="1206.7" y="710.1" textLength="53.9" lengthAdjust="spacingAndGlyphs">20-079-00</text></g>
<g class="lab"><text x="826.9" y="167.7" textLength="29.3" lengthAdjust="spacingAndGlyphs">1 RA</text><text x="826.3" y="186.6" textLength="36.8" lengthAdjust="spacingAndGlyphs">year1</text><text x="707.8" y="230.6" textLength="29.6" lengthAdjust="spacingAndGlyphs">1 RA</text><text x="707.9" y="249.7" textLength="54.3" lengthAdjust="spacingAndGlyphs">baseline</text><text x="1031.6" y="302.7" textLength="44.0" lengthAdjust="spacingAndGlyphs">3 CCP+</text><text x="1031.9" y="321.6" textLength="54.3" lengthAdjust="spacingAndGlyphs">baseline</text><text x="559.7" y="428.7" textLength="77.6" lengthAdjust="spacingAndGlyphs">2CCP+year3</text><text x="1031.7" y="544.5" textLength="48.8" lengthAdjust="spacingAndGlyphs">3 year2</text><text x="1031.7" y="563.7" textLength="72.7" lengthAdjust="spacingAndGlyphs">Conv to RA</text><text x="638.6" y="604.5" textLength="85.9" lengthAdjust="spacingAndGlyphs">2 CCP+ year2</text><text x="792.7" y="668.4" textLength="103.1" lengthAdjust="spacingAndGlyphs">2 CCP+ baseline</text></g>
</svg>
</body></html>
